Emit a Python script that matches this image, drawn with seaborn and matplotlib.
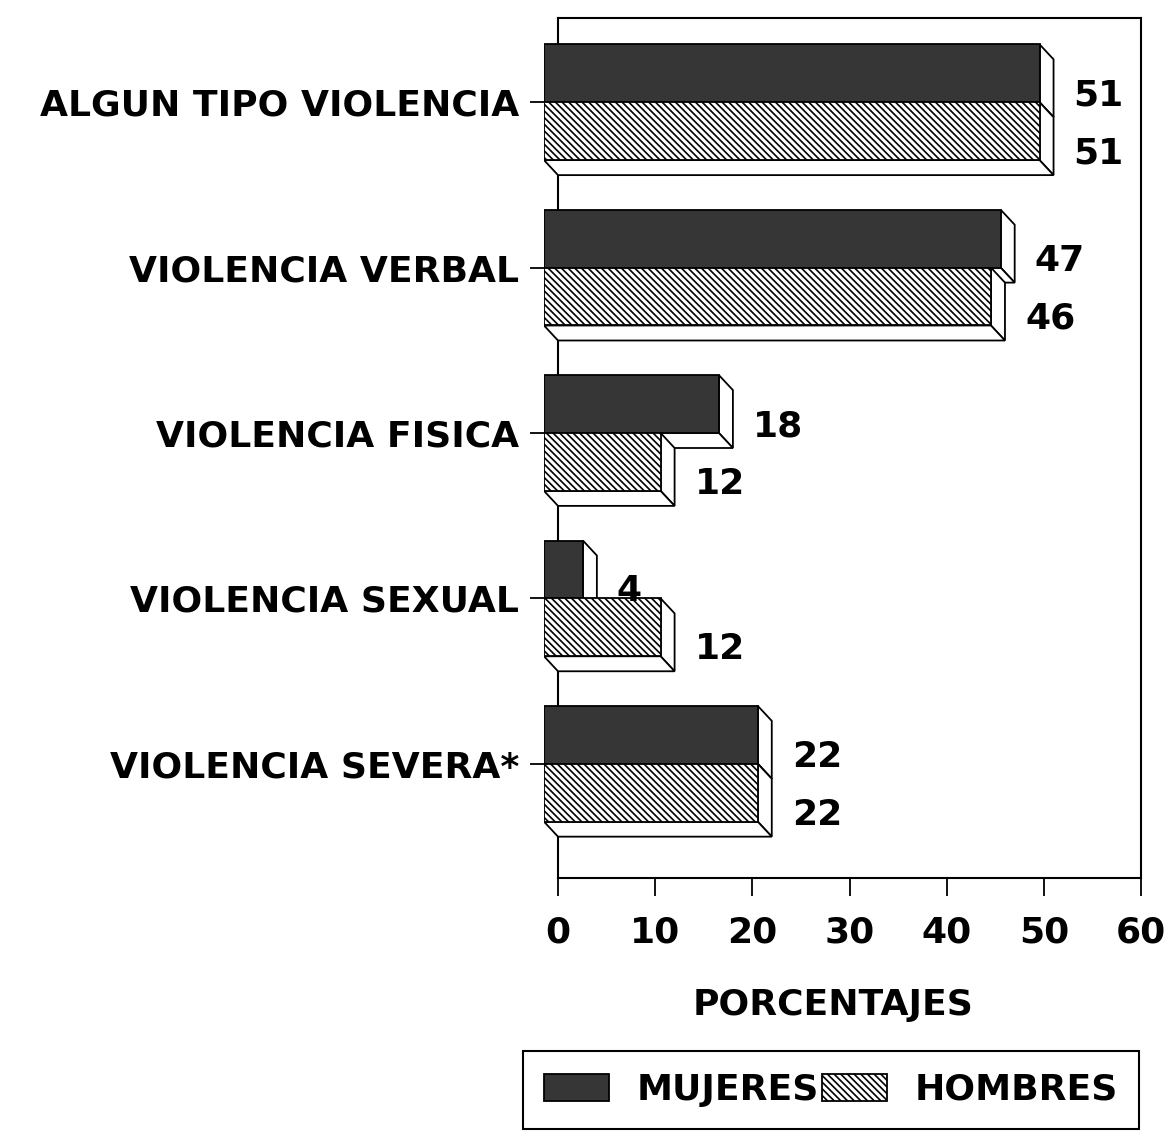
import matplotlib
matplotlib.use("Agg")
import matplotlib.pyplot as plt
from matplotlib.patches import Polygon
import pandas as pd
import seaborn as sns

# Datos del gráfico (porcentajes)
categorias = ["ALGUN TIPO VIOLENCIA", "VIOLENCIA VERBAL", "VIOLENCIA FISICA",
              "VIOLENCIA SEXUAL", "VIOLENCIA SEVERA*"]
grupos = ["MUJERES", "HOMBRES"]
mujeres = [51, 47, 18, 4, 22]
hombres = [51, 46, 12, 12, 22]
ticks_x = [0, 10, 20, 30, 40, 50, 60]

sns.set_style("white", {"text.color": "black", "axes.labelcolor": "black",
                        "xtick.color": "black", "ytick.color": "black",
                        "axes.edgecolor": "black"})
plt.rcParams["font.family"] = ["DejaVu Sans"]
plt.rcParams["font.weight"] = "bold"
plt.rcParams["axes.labelweight"] = "bold"
plt.rcParams["hatch.linewidth"] = 1.2
plt.rcParams["hatch.color"] = "black"

df = pd.DataFrame({
    "categoria": categorias * 2,
    "sexo": [grupos[0]] * len(categorias) + [grupos[1]] * len(categorias),
    "porcentaje": mujeres + hombres,
})

W, H = 1164, 1141
fig = plt.figure(figsize=(W / 100, H / 100), dpi=100)
fig.patch.set_facecolor("white")


def caja(l, t, r, b):
    return [l / W, 1 - b / H, (r - l) / W, (b - t) / H]


# Profundidad de la perspectiva (px): el plano frontal se desplaza arriba-izquierda
DX, DY = 14, 15
L, T, R, B = 558, 18, 1141, 878
ax_back = fig.add_axes(caja(L, T, R, B))
ax = fig.add_axes(caja(L - DX, T - DY, R - DX, B - DY))

FS = 26

# Pared del fondo con el eje de porcentajes
ax_back.set_xlim(0, 60)
ax_back.set_ylim(0, 1)
ax_back.set_yticks([])
ax_back.set_xticks(ticks_x)
ax_back.set_xticklabels([str(t) for t in ticks_x])
ax_back.tick_params(axis="x", bottom=True, direction="out", length=13,
                    width=1.3, pad=14, labelsize=FS)
for s in ax_back.spines.values():
    s.set_visible(True)
    s.set_linewidth(1.5)
    s.set_color("black")
ax_back.set_xlabel("PORCENTAJES", fontsize=FS)
ax_back.xaxis.set_label_coords((833 - L) / (R - L), -(1005 - B) / (B - T))
ax_back.xaxis.label.set_va("center")

# Barras frontales
sns.barplot(data=df, y="categoria", x="porcentaje", hue="sexo",
            hue_order=grupos, order=categorias, orient="h",
            palette={"MUJERES": "#363636", "HOMBRES": "white"},
            width=0.7, gap=0, saturation=1, errorbar=None,
            edgecolor="black", linewidth=1.3, legend=False, ax=ax)

ax.set_xlim(0, 60)
ax.set_ylim(4.6, -0.6)
ax.set_facecolor("none")
for s in ax.spines.values():
    s.set_visible(False)
ax.set_xticks([])
ax.set_xlabel("")
ax.set_ylabel("")
ax.tick_params(axis="y", left=True, direction="out", length=10, width=1.3,
               pad=8, labelsize=FS)

px_x = (R - L) / 60.0
px_y = (B - T) / 5.2
dxd = DX / px_x
dyd = DY / px_y

for k, cont in enumerate(ax.containers):
    base_z = 2 + 2 * k
    for rect in cont.patches:
        v = rect.get_width()
        y0 = rect.get_y()
        y1 = y0 + rect.get_height()
        rect.set_zorder(base_z + 1)
        if k == 1:
            rect.set_hatch("\\\\\\\\\\")
        lado = Polygon([(v, y0), (v + dxd, y0 + dyd), (v + dxd, y1 + dyd), (v, y1)],
                       closed=True, facecolor="white", edgecolor="black",
                       linewidth=1.3, zorder=base_z)
        base = Polygon([(0, y1), (v, y1), (v + dxd, y1 + dyd), (dxd, y1 + dyd)],
                       closed=True, facecolor="white", edgecolor="black",
                       linewidth=1.3, zorder=base_z)
        ax.add_patch(lado)
        ax.add_patch(base)
        ax.text(v + dxd + 20 / px_x, (y0 + y1) / 2 + 22 / px_y, f"{v:.0f}",
                ha="left", va="center", fontsize=FS, zorder=10)

leg = fig.legend(handles=[ax.containers[0], ax.containers[1]], labels=grupos,
                 loc="center", bbox_to_anchor=(831 / W, 1 - 1090 / H),
                 ncol=2, fontsize=FS, frameon=True, fancybox=False,
                 handlelength=1.8, handleheight=0.8, handletextpad=0.75,
                 columnspacing=0.1, borderpad=0.6)
leg.get_frame().set_edgecolor("black")
leg.get_frame().set_linewidth(1.5)
leg.get_frame().set_alpha(1)

fig.savefig("out.png", dpi=100, facecolor="white")
